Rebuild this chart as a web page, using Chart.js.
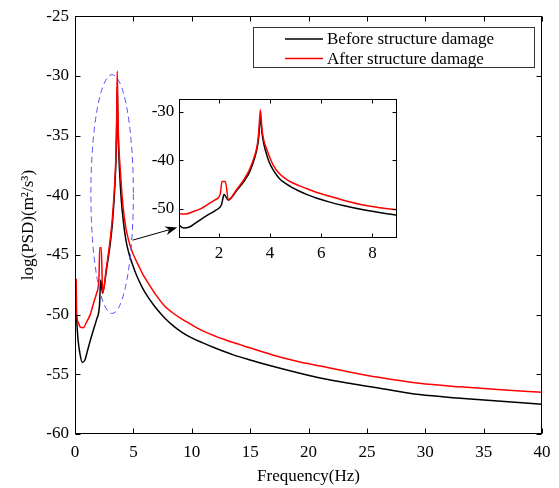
<!DOCTYPE html>
<html>
<head>
<meta charset="utf-8">
<script src="https://cdn.jsdelivr.net/npm/chart.js@4.4.1/dist/chart.umd.min.js"></script>
<style>
body { margin: 0; background: #fff; }
#wrap { position: relative; width: 559px; height: 488px; }
#mainChart { position: absolute; left: 0; top: 0; }
#insetChart { position: absolute; left: 140px; top: 84px; }
</style>
</head>
<body>
<div id="wrap">
<canvas id="mainChart" width="559" height="488"></canvas>
<canvas id="insetChart" width="262" height="176"></canvas>
</div>
<script>
// data (frequency in Hz, log PSD)
const freqBefore = [0.1, 0.25, 0.43, 0.62, 0.85, 1.05, 1.3, 1.6, 1.85, 2.1, 2.2, 2.36, 2.7, 3.0, 3.2, 3.4, 3.5, 3.56, 3.62, 3.68, 3.75, 3.82, 3.95, 4.12, 4.35, 4.6, 4.85, 5.15, 5.45, 5.8, 6.3, 6.9, 7.7, 8.5, 9.2, 10, 10.9, 12, 13.5, 15, 17, 19, 21, 23.5, 26, 29.5, 33, 36.5, 40];
const psdBefore = [-49.7, -52.0, -53.3, -54.0, -53.8, -53.1, -52.2, -51.2, -50.4, -49.2, -47.1, -48.2, -46.2, -44.2, -42.4, -39.5, -37.3, -35.0, -30.9, -34.2, -36.5, -38.0, -40.2, -42.0, -43.7, -44.8, -45.6, -46.4, -47.1, -47.8, -48.6, -49.4, -50.3, -51.0, -51.5, -51.95, -52.35, -52.8, -53.35, -53.8, -54.35, -54.85, -55.3, -55.75, -56.15, -56.7, -57.0, -57.25, -57.5];

const freqAfter = [0.1, 0.14, 0.3, 0.45, 0.7, 1.0, 1.3, 1.6, 1.85, 2.05, 2.12, 2.25, 2.37, 2.7, 3.0, 3.2, 3.4, 3.5, 3.56, 3.62, 3.68, 3.75, 3.86, 4.0, 4.12, 4.35, 4.6, 4.85, 5.15, 5.45, 5.8, 6.3, 6.9, 7.7, 8.3, 9.2, 10, 10.6, 12, 12.85, 14.4, 17, 19, 21, 23.5, 26, 29.5, 33, 36.5, 40];
const psdAfter = [-47.0, -49.8, -50.7, -51.05, -51.1, -50.6, -50.0, -49.0, -48.2, -47.0, -44.4, -44.4, -48.2, -46.0, -43.8, -41.9, -39.0, -36.8, -34.0, -29.6, -33.5, -35.8, -37.6, -39.6, -41.0, -42.7, -43.8, -44.6, -45.3, -45.9, -46.6, -47.4, -48.3, -49.3, -49.8, -50.4, -50.85, -51.2, -51.8, -52.1, -52.6, -53.4, -53.9, -54.3, -54.8, -55.25, -55.75, -56.05, -56.3, -56.5];

const seriesLabels = ['Before structure damage', 'After structure damage'];
const xTitle = 'Frequency(Hz)';
const yTitle = 'log(PSD)(m²/s³)';

// zoom marker (ellipse) and arrow, in data units of the main chart
const zoomEllipse = { cx: 3.18, cy: -39.9, rx: 1.82, ry: 10.0 };
const arrowFrom = [4.94, -43.76];
const arrowTo = [8.76, -42.7];

const FONT = "'Liberation Serif', 'Times New Roman', serif";

function toPoints(xs, ys) {
    return xs.map((x, i) => ({ x: x, y: ys[i] }));
}

function makeDatasets() {
    return [
        {
            label: seriesLabels[0],
            data: toPoints(freqBefore, psdBefore),
            borderColor: '#000000',
            borderWidth: 1.5,
            pointRadius: 0,
            cubicInterpolationMode: 'monotone',
            order: 1
        },
        {
            label: seriesLabels[1],
            data: toPoints(freqAfter, psdAfter),
            borderColor: '#ff0000',
            borderWidth: 1.5,
            pointRadius: 0,
            cubicInterpolationMode: 'monotone',
            order: 0
        }
    ];
}

// white plot background (needed so the inset hides the main curves)
const whiteArea = {
    id: 'whiteArea',
    beforeDraw(chart) {
        const a = chart.chartArea;
        chart.ctx.save();
        chart.ctx.fillStyle = '#fff';
        chart.ctx.fillRect(a.left, a.top, a.right - a.left, a.bottom - a.top);
        chart.ctx.restore();
    }
};

// box around the plot with ticks pointing inward on all four sides
const boxTicks = {
    id: 'boxTicks',
    afterDraw(chart, args, opts) {
        const { ctx, chartArea: a, scales: { x, y } } = chart;
        const len = opts.len || 5;
        const L = Math.round(a.left) + 0.5, R = Math.round(a.right) - 0.5;
        const T = Math.round(a.top) + 0.5, B = Math.round(a.bottom) - 0.5;
        ctx.save();
        ctx.strokeStyle = '#000';
        ctx.lineWidth = 1;
        ctx.beginPath();
        x.ticks.forEach(t => {
            const px = Math.round(x.getPixelForValue(t.value)) + 0.5;
            ctx.moveTo(px, B); ctx.lineTo(px, B - len);
            ctx.moveTo(px, T); ctx.lineTo(px, T + len);
        });
        y.ticks.forEach(t => {
            const py = Math.round(y.getPixelForValue(t.value)) + 0.5;
            ctx.moveTo(L, py); ctx.lineTo(L + len, py);
            ctx.moveTo(R, py); ctx.lineTo(R - len, py);
        });
        ctx.stroke();
        ctx.strokeRect(L, T, R - L, B - T);
        ctx.restore();
    }
};

// dashed ellipse + arrow pointing to the inset
const zoomMarker = {
    id: 'zoomMarker',
    afterDatasetsDraw(chart) {
        const { ctx, scales: { x, y } } = chart;
        const cx = x.getPixelForValue(zoomEllipse.cx);
        const cy = y.getPixelForValue(zoomEllipse.cy);
        const rx = Math.abs(x.getPixelForValue(zoomEllipse.cx + zoomEllipse.rx) - cx);
        const ry = Math.abs(y.getPixelForValue(zoomEllipse.cy + zoomEllipse.ry) - cy);
        ctx.save();
        ctx.strokeStyle = '#5555ff';
        ctx.lineWidth = 1;
        ctx.setLineDash([6, 4]);
        ctx.beginPath();
        ctx.ellipse(cx, cy, rx, ry, 0, 0, Math.PI * 2);
        ctx.stroke();
        ctx.setLineDash([]);

        const x0 = x.getPixelForValue(arrowFrom[0]), y0 = y.getPixelForValue(arrowFrom[1]);
        const x1 = x.getPixelForValue(arrowTo[0]), y1 = y.getPixelForValue(arrowTo[1]);
        const ang = Math.atan2(y1 - y0, x1 - x0);
        const headLen = 12, headW = 4.5;
        ctx.strokeStyle = '#000';
        ctx.fillStyle = '#000';
        ctx.beginPath();
        ctx.moveTo(x0, y0);
        ctx.lineTo(x1 - Math.cos(ang) * headLen * 0.7, y1 - Math.sin(ang) * headLen * 0.7);
        ctx.stroke();
        ctx.translate(x1, y1);
        ctx.rotate(ang);
        ctx.beginPath();
        ctx.moveTo(0, 0);
        ctx.lineTo(-headLen, -headW);
        ctx.lineTo(-headLen * 0.7, 0);
        ctx.lineTo(-headLen, headW);
        ctx.closePath();
        ctx.fill();
        ctx.restore();
    }
};

// boxed legend in the top right corner
const boxLegend = {
    id: 'boxLegend',
    afterDraw(chart) {
        const ctx = chart.ctx;
        const rows = [39, 58.5];
        ctx.save();
        ctx.fillStyle = '#fff';
        ctx.fillRect(253, 27.5, 282, 40);
        ctx.strokeStyle = '#333';
        ctx.lineWidth = 1;
        ctx.strokeRect(253.5, 27.5, 281, 40);
        ctx.font = '17px ' + FONT;
        ctx.textBaseline = 'middle';
        chart.data.datasets.forEach((ds, i) => {
            ctx.strokeStyle = ds.borderColor;
            ctx.lineWidth = 1.5;
            ctx.beginPath();
            ctx.moveTo(285, rows[i]);
            ctx.lineTo(323, rows[i]);
            ctx.stroke();
            ctx.fillStyle = '#000';
            ctx.fillText(ds.label, 327, rows[i] + 1);
        });
        ctx.restore();
    }
};

let mainChart;
let insetChart;

function drawMainChart() {
    const ctx = document.getElementById('mainChart').getContext('2d');
    mainChart = new Chart(ctx, {
        type: 'line',
        data: { datasets: makeDatasets() },
        plugins: [whiteArea, zoomMarker, boxTicks, boxLegend],
        options: {
            responsive: false,
            animation: false,
            layout: { padding: { top: 16, right: 17, left: 0, bottom: 0 } },
            plugins: {
                legend: { display: false },
                tooltip: { enabled: false },
                boxTicks: { len: 5 }
            },
            scales: {
                x: {
                    type: 'linear',
                    min: 0,
                    max: 40,
                    border: { display: false },
                    grid: { display: false, drawTicks: false },
                    ticks: { stepSize: 5, padding: 8, color: '#000', font: { family: FONT, size: 17 } },
                    title: { display: true, text: xTitle, color: '#000', font: { family: FONT, size: 17 }, padding: { top: 0, bottom: 1 } },
                    afterFit(scale) { scale.height = 54; }
                },
                y: {
                    type: 'linear',
                    min: -60,
                    max: -25,
                    border: { display: false },
                    grid: { display: false, drawTicks: false },
                    ticks: { stepSize: 5, padding: 6, color: '#000', font: { family: FONT, size: 17 } },
                    title: { display: true, text: yTitle, color: '#000', font: { family: FONT, size: 17 }, padding: { top: 18, bottom: 0 } },
                    afterFit(scale) { scale.width = 75; }
                }
            }
        }
    });
}

function drawInsetChart() {
    const ctx = document.getElementById('insetChart').getContext('2d');
    insetChart = new Chart(ctx, {
        type: 'line',
        data: { datasets: makeDatasets() },
        plugins: [whiteArea, boxTicks],
        options: {
            responsive: false,
            animation: false,
            layout: { padding: { top: 5.3, right: 5.3, left: 0, bottom: 0 } },
            plugins: {
                legend: { display: false },
                tooltip: { enabled: false },
                boxTicks: { len: 4 }
            },
            scales: {
                x: {
                    type: 'linear',
                    min: 0.45,
                    max: 8.95,
                    border: { display: false },
                    grid: { display: false, drawTicks: false },
                    ticks: { stepSize: 2, includeBounds: false, padding: 6, color: '#000', font: { family: FONT, size: 17 } },
                    afterFit(scale) { scale.height = 22.3; }
                },
                y: {
                    type: 'linear',
                    min: -56,
                    max: -27.4,
                    border: { display: false },
                    grid: { display: false, drawTicks: false },
                    ticks: { stepSize: 10, includeBounds: false, padding: 5, color: '#000', font: { family: FONT, size: 17 } },
                    afterFit(scale) { scale.width = 39.3; }
                }
            }
        }
    });
}

drawMainChart();
drawInsetChart();
</script>
</body>
</html>
